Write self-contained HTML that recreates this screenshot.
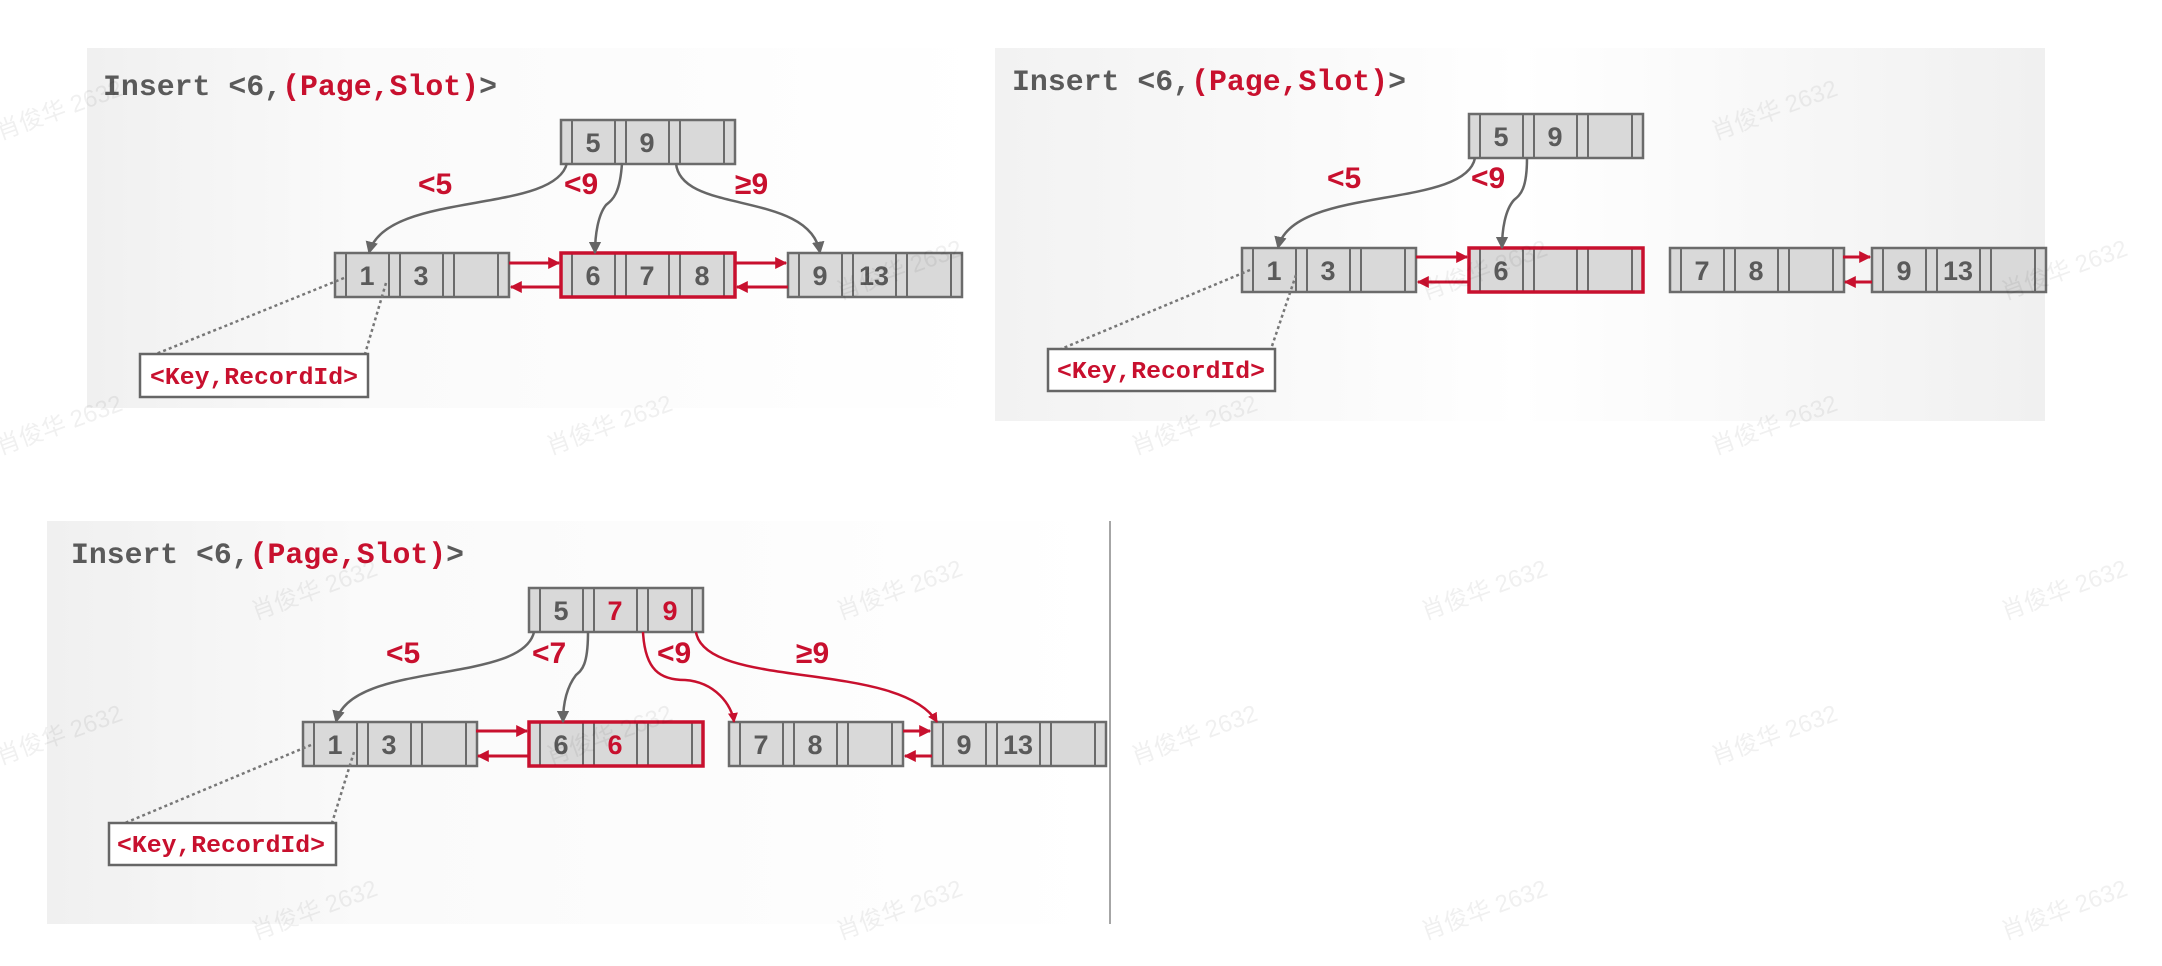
<!DOCTYPE html>
<html><head><meta charset="utf-8"><style>
html,body{margin:0;padding:0;background:#fff;width:2162px;height:966px;overflow:hidden}
svg{display:block}
.t{font-family:"Liberation Mono",monospace;font-weight:bold;font-size:30px}
.k{font-family:"Liberation Sans",sans-serif;font-weight:bold;font-size:27px;fill:#5a5a5a;text-anchor:middle}
.kr{fill:#c8102e}
.l{font-family:"Liberation Sans",sans-serif;font-weight:bold;font-size:30px;fill:#c8102e}
.wm{font-family:"Liberation Sans","Noto Sans CJK SC",sans-serif;font-size:24px;fill:#000;opacity:0.06}
.nd{fill:#d9d9d9;stroke:#6b6b6b;stroke-width:2.5}
.sp{stroke:#6b6b6b;stroke-width:2}
.g{fill:none;stroke:#666;stroke-width:2.5}
.r{fill:none;stroke:#c8102e;stroke-width:2.5}
.rh{stroke:#c8102e;stroke-width:3}
.dot{stroke:#777;stroke-width:2.5;stroke-dasharray:3 3;fill:none}
</style></head><body>
<svg width="2162" height="966" viewBox="0 0 2162 966" xmlns="http://www.w3.org/2000/svg">
<defs>
<linearGradient id="bg" x1="0" x2="1" y1="0" y2="0"><stop offset="0" stop-color="#f0f0f0"/><stop offset="0.3" stop-color="#fafafa"/><stop offset="1" stop-color="#ffffff"/></linearGradient>
<linearGradient id="bg2" x1="0" x2="1" y1="0" y2="0"><stop offset="0" stop-color="#f2f2f2"/><stop offset="0.5" stop-color="#ffffff"/><stop offset="1" stop-color="#f0f0f0"/></linearGradient>
<marker id="ag" viewBox="0 0 10 10" refX="9" refY="5" markerWidth="5" markerHeight="5" orient="auto"><path d="M0,0L10,5L0,10z" fill="#666"/></marker>
<marker id="ar" viewBox="0 0 10 10" refX="9" refY="5" markerWidth="4" markerHeight="4" orient="auto"><path d="M0,0L10,5L0,10z" fill="#c8102e"/></marker>
<g id="n"><rect class="nd" x="0" y="0" width="174" height="44"/>
<path class="sp" d="M11,0V44M54,0V44M65,0V44M108,0V44M119,0V44M163,0V44"/></g>
</defs>

<rect x="87" y="48" width="906" height="360" fill="url(#bg)"/>
<rect x="995" y="48" width="1050" height="373" fill="url(#bg2)"/>
<rect x="47" y="521" width="1063" height="403" fill="url(#bg)"/>
<line x1="1110" y1="521" x2="1110" y2="924" stroke="#888" stroke-width="1.5"/>

<!-- ===== Panel 1 ===== -->
<text class="t" x="103" y="95" textLength="394" lengthAdjust="spacingAndGlyphs"><tspan fill="#5a5a5a">Insert &lt;6,</tspan><tspan fill="#c8102e">(Page,Slot)</tspan><tspan fill="#5a5a5a">&gt;</tspan></text>
<use href="#n" x="561" y="120"/>
<text class="k" x="593" y="152">5</text><text class="k" x="647" y="152">9</text>
<use href="#n" x="335" y="253"/>
<text class="k" x="367" y="285">1</text><text class="k" x="421" y="285">3</text>
<use href="#n" x="561" y="253"/>
<rect x="561" y="253" width="174" height="44" fill="none" stroke="#c8102e" stroke-width="3.5"/>
<text class="k" x="593" y="285">6</text><text class="k" x="647" y="285">7</text><text class="k" x="702" y="285">8</text>
<use href="#n" x="788" y="253"/>
<text class="k" x="820" y="285">9</text><text class="k" x="874" y="285">13</text>
<path class="g" d="M567,163 C555,215 385,190 369,253" marker-end="url(#ag)"/>
<path class="g" d="M622,163 C620,195 612,200 606,205 C598,215 595,235 595,253" marker-end="url(#ag)"/>
<path class="g" d="M676,163 C680,215 810,190 820,253" marker-end="url(#ag)"/>
<text class="l" x="418" y="194">&lt;5</text><text class="l" x="564" y="194">&lt;9</text><text class="l" x="735" y="194">≥9</text>
<line class="rh" x1="509" y1="263" x2="559" y2="263" marker-end="url(#ar)"/>
<line class="rh" x1="561" y1="287" x2="511" y2="287" marker-end="url(#ar)"/>
<line class="rh" x1="735" y1="263" x2="786" y2="263" marker-end="url(#ar)"/>
<line class="rh" x1="788" y1="287" x2="737" y2="287" marker-end="url(#ar)"/>
<line class="dot" x1="344" y1="278" x2="156" y2="354"/>
<line class="dot" x1="386" y1="283" x2="365" y2="354"/>
<rect x="140" y="354" width="228" height="43" fill="#fff" stroke="#666" stroke-width="2.5"/>
<text class="t" x="150" y="384" style="font-size:24px" fill="#c8102e" textLength="208" lengthAdjust="spacingAndGlyphs">&lt;Key,RecordId&gt;</text>

<!-- ===== Panel 2 ===== -->
<text class="t" x="1012" y="90" textLength="394" lengthAdjust="spacingAndGlyphs"><tspan fill="#5a5a5a">Insert &lt;6,</tspan><tspan fill="#c8102e">(Page,Slot)</tspan><tspan fill="#5a5a5a">&gt;</tspan></text>
<use href="#n" x="1469" y="114"/>
<text class="k" x="1501" y="146">5</text><text class="k" x="1555" y="146">9</text>
<use href="#n" x="1242" y="248"/>
<text class="k" x="1274" y="280">1</text><text class="k" x="1328" y="280">3</text>
<use href="#n" x="1469" y="248"/>
<rect x="1469" y="248" width="174" height="44" fill="none" stroke="#c8102e" stroke-width="3.5"/>
<text class="k" x="1501" y="280">6</text>
<use href="#n" x="1670" y="248"/>
<text class="k" x="1702" y="280">7</text><text class="k" x="1756" y="280">8</text>
<use href="#n" x="1872" y="248"/>
<text class="k" x="1904" y="280">9</text><text class="k" x="1958" y="280">13</text>
<path class="g" d="M1475,158 C1465,210 1292,185 1278,248" marker-end="url(#ag)"/>
<path class="g" d="M1527,158 C1527,190 1520,195 1514,200 C1505,210 1502,230 1502,248" marker-end="url(#ag)"/>
<text class="l" x="1327" y="188">&lt;5</text><text class="l" x="1471" y="188">&lt;9</text>
<line class="rh" x1="1416" y1="257" x2="1467" y2="257" marker-end="url(#ar)"/>
<line class="rh" x1="1469" y1="282" x2="1418" y2="282" marker-end="url(#ar)"/>
<line class="rh" x1="1843" y1="257" x2="1870" y2="257" marker-end="url(#ar)"/>
<line class="rh" x1="1872" y1="282" x2="1845" y2="282" marker-end="url(#ar)"/>
<line class="dot" x1="1250" y1="270" x2="1061" y2="349"/>
<line class="dot" x1="1296" y1="275" x2="1271" y2="349"/>
<rect x="1048" y="349" width="227" height="42" fill="#fff" stroke="#666" stroke-width="2.5"/>
<text class="t" x="1057" y="378" style="font-size:24px" fill="#c8102e" textLength="208" lengthAdjust="spacingAndGlyphs">&lt;Key,RecordId&gt;</text>

<!-- ===== Panel 3 ===== -->
<text class="t" x="71" y="563" textLength="393" lengthAdjust="spacingAndGlyphs"><tspan fill="#5a5a5a">Insert &lt;6,</tspan><tspan fill="#c8102e">(Page,Slot)</tspan><tspan fill="#5a5a5a">&gt;</tspan></text>
<use href="#n" x="529" y="588"/>
<text class="k" x="561" y="620">5</text><text class="k kr" x="615" y="620">7</text><text class="k kr" x="670" y="620">9</text>
<use href="#n" x="303" y="722"/>
<text class="k" x="335" y="754">1</text><text class="k" x="389" y="754">3</text>
<use href="#n" x="529" y="722"/>
<rect x="529" y="722" width="174" height="44" fill="none" stroke="#c8102e" stroke-width="3.5"/>
<text class="k" x="561" y="754">6</text><text class="k kr" x="615" y="754">6</text>
<use href="#n" x="729" y="722"/>
<text class="k" x="761" y="754">7</text><text class="k" x="815" y="754">8</text>
<use href="#n" x="932" y="722"/>
<text class="k" x="964" y="754">9</text><text class="k" x="1018" y="754">13</text>
<path class="g" d="M534,632 C522,685 350,660 336,722" marker-end="url(#ag)"/>
<path class="g" d="M588,632 C588,665 582,670 576,675 C566,688 563,705 563,722" marker-end="url(#ag)"/>
<path class="r" d="M643,632 C645,670 660,680 685,680 C715,682 732,705 734,722" marker-end="url(#ar)"/>
<path class="r" d="M696,632 C705,690 900,660 937,722" marker-end="url(#ar)"/>
<text class="l" x="386" y="663">&lt;5</text><text class="l" x="532" y="663">&lt;7</text><text class="l" x="657" y="663">&lt;9</text><text class="l" x="796" y="663">≥9</text>
<line class="rh" x1="476" y1="731" x2="527" y2="731" marker-end="url(#ar)"/>
<line class="rh" x1="529" y1="756" x2="478" y2="756" marker-end="url(#ar)"/>
<line class="rh" x1="903" y1="731" x2="930" y2="731" marker-end="url(#ar)"/>
<line class="rh" x1="932" y1="756" x2="905" y2="756" marker-end="url(#ar)"/>
<line class="dot" x1="311" y1="745" x2="125" y2="823"/>
<line class="dot" x1="354" y1="752" x2="332" y2="823"/>
<rect x="109" y="823" width="227" height="42" fill="#fff" stroke="#666" stroke-width="2.5"/>
<text class="t" x="117" y="852" style="font-size:24px" fill="#c8102e" textLength="208" lengthAdjust="spacingAndGlyphs">&lt;Key,RecordId&gt;</text>

<g class="wm">
<text transform="translate(0,140) rotate(-20)">肖俊华 2632</text>
<text transform="translate(1715,140) rotate(-20)">肖俊华 2632</text>
<text transform="translate(840,300) rotate(-20)">肖俊华 2632</text>
<text transform="translate(1425,300) rotate(-20)">肖俊华 2632</text>
<text transform="translate(2005,300) rotate(-20)">肖俊华 2632</text>
<text transform="translate(0,455) rotate(-20)">肖俊华 2632</text>
<text transform="translate(550,455) rotate(-20)">肖俊华 2632</text>
<text transform="translate(1135,455) rotate(-20)">肖俊华 2632</text>
<text transform="translate(1715,455) rotate(-20)">肖俊华 2632</text>
<text transform="translate(255,620) rotate(-20)">肖俊华 2632</text>
<text transform="translate(840,620) rotate(-20)">肖俊华 2632</text>
<text transform="translate(1425,620) rotate(-20)">肖俊华 2632</text>
<text transform="translate(2005,620) rotate(-20)">肖俊华 2632</text>
<text transform="translate(0,765) rotate(-20)">肖俊华 2632</text>
<text transform="translate(550,765) rotate(-20)">肖俊华 2632</text>
<text transform="translate(1135,765) rotate(-20)">肖俊华 2632</text>
<text transform="translate(1715,765) rotate(-20)">肖俊华 2632</text>
<text transform="translate(255,940) rotate(-20)">肖俊华 2632</text>
<text transform="translate(840,940) rotate(-20)">肖俊华 2632</text>
<text transform="translate(1425,940) rotate(-20)">肖俊华 2632</text>
<text transform="translate(2005,940) rotate(-20)">肖俊华 2632</text>
</g>
</svg>
</body></html>
